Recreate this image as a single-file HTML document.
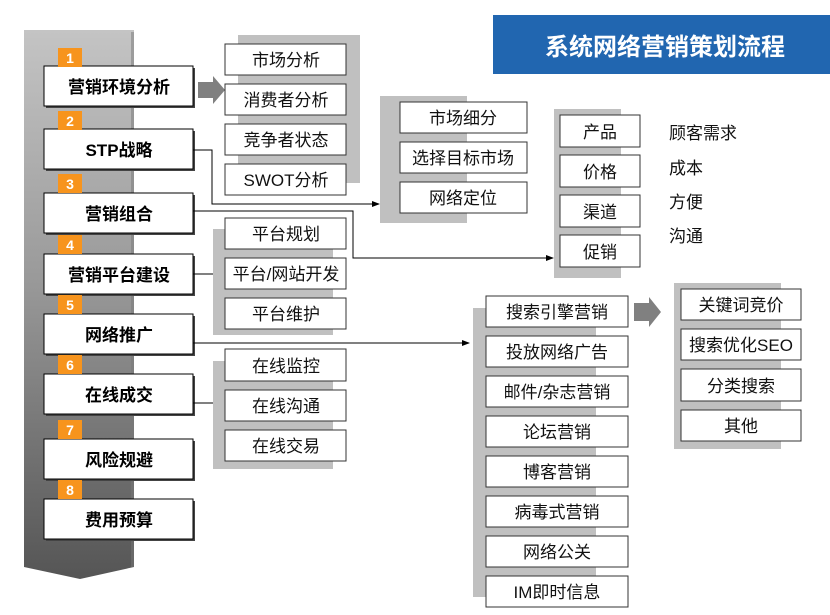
<!DOCTYPE html>
<html><head><meta charset="utf-8"><style>
html,body{margin:0;padding:0;background:#fff;width:830px;height:615px;overflow:hidden}
svg text{font-family:"Liberation Sans","Noto Sans CJK SC",sans-serif}
</style></head><body>
<svg width="830" height="615" xmlns="http://www.w3.org/2000/svg">
<defs>
<linearGradient id="g" x1="0" y1="0" x2="0" y2="1">
<stop offset="0" stop-color="#c4c4c4"/><stop offset="0.45" stop-color="#9a9a9a"/><stop offset="1" stop-color="#555"/>
</linearGradient>
<marker id="a" markerWidth="8" markerHeight="8" refX="7" refY="4" orient="auto" markerUnits="userSpaceOnUse"><path d="M0,1 L8,4 L0,7 Z" fill="#000"/></marker>
</defs>
<rect x="493" y="15" width="337" height="59" fill="#2166b0"/>
<text x="665" y="55" font-size="24" font-weight="bold" fill="#fff" text-anchor="middle">系统网络营销策划流程</text>
<path d="M24,30 H134 V567 L80,579 L24,567 Z" fill="url(#g)"/>
<rect x="131" y="32" width="3" height="535" fill="#777" opacity="0.5"/>
<g font-size="17" font-weight="bold" text-anchor="middle">
<g id="b">
</g>
</g>
<!-- left boxes -->
<g stroke="#000" stroke-width="1">
<rect x="46" y="68" width="149" height="40" fill="#444" stroke="none"/>
<rect x="44" y="66" width="149" height="40" fill="#fff"/>
<rect x="46" y="131" width="149" height="40" fill="#444" stroke="none"/>
<rect x="44" y="129" width="149" height="40" fill="#fff"/>
<rect x="46" y="195" width="149" height="40" fill="#444" stroke="none"/>
<rect x="44" y="193" width="149" height="40" fill="#fff"/>
<rect x="46" y="256" width="149" height="40" fill="#444" stroke="none"/>
<rect x="44" y="254" width="149" height="40" fill="#fff"/>
<rect x="46" y="316" width="149" height="40" fill="#444" stroke="none"/>
<rect x="44" y="314" width="149" height="40" fill="#fff"/>
<rect x="46" y="376" width="149" height="40" fill="#444" stroke="none"/>
<rect x="44" y="374" width="149" height="40" fill="#fff"/>
<rect x="46" y="441" width="149" height="40" fill="#444" stroke="none"/>
<rect x="44" y="439" width="149" height="40" fill="#fff"/>
<rect x="46" y="501" width="149" height="40" fill="#444" stroke="none"/>
<rect x="44" y="499" width="149" height="40" fill="#fff"/>
</g>
<g fill="#f7941d">
<rect x="58" y="48" width="24" height="19"/><rect x="58" y="111" width="24" height="19"/>
<rect x="58" y="174" width="24" height="19"/><rect x="58" y="235" width="24" height="19"/>
<rect x="58" y="295" width="24" height="19"/><rect x="58" y="355" width="24" height="19"/>
<rect x="58" y="420" width="24" height="19"/><rect x="58" y="480" width="24" height="19"/>
</g>
<g fill="#fff" font-size="14" font-weight="bold" text-anchor="middle">
<text x="70" y="63">1</text><text x="70" y="126">2</text><text x="70" y="189">3</text><text x="70" y="250">4</text>
<text x="70" y="310">5</text><text x="70" y="370">6</text><text x="70" y="435">7</text><text x="70" y="495">8</text>
</g>
<g font-size="17" font-weight="bold" text-anchor="middle">
<text x="119" y="93">营销环境分析</text><text x="119" y="156">STP战略</text>
<text x="119" y="220">营销组合</text><text x="119" y="281">营销平台建设</text>
<text x="119" y="341">网络推广</text><text x="119" y="401">在线成交</text>
<text x="119" y="466">风险规避</text><text x="119" y="526">费用预算</text>
</g>
<!-- gray backs -->
<g fill="#c0c0c0">
<rect x="238" y="35" width="122" height="148"/>
<rect x="380" y="96" width="87" height="127"/>
<rect x="554" y="109" width="67" height="169"/>
<rect x="213" y="229" width="120" height="106"/>
<rect x="213" y="361" width="120" height="108"/>
<rect x="473" y="308" width="123" height="289"/>
<rect x="674" y="283" width="107" height="166"/>
</g>
<!-- big arrows -->
<path d="M198,82 H213 V76 L225,90 L213,104 V98 H198 Z" fill="#808080"/>
<path d="M634,303 H649 V297 L661,312 L649,327 V321 H634 Z" fill="#808080"/>
<!-- connectors -->
<g stroke="#000" stroke-width="1" fill="none">
<path d="M193,150 H212 V204 H379" marker-end="url(#a)"/>
<path d="M193,211 H353 V258 H553" marker-end="url(#a)"/>
<path d="M193,274 H213"/>
<path d="M193,343 H469" marker-end="url(#a)"/>
<path d="M193,403 H213"/>
</g>
<g fill="#fff" stroke="#333" stroke-width="1">
<rect x="225" y="44" width="121" height="31"/><rect x="225" y="84" width="121" height="31"/>
<rect x="225" y="124" width="121" height="31"/><rect x="225" y="164" width="121" height="31"/>
<rect x="400" y="102" width="127" height="31"/><rect x="400" y="142" width="127" height="31"/><rect x="400" y="182" width="127" height="31"/>
<rect x="560" y="115" width="80" height="32"/><rect x="560" y="155" width="80" height="32"/>
<rect x="560" y="195" width="80" height="32"/><rect x="560" y="235" width="80" height="32"/>
<rect x="225" y="218" width="121" height="31"/><rect x="225" y="258" width="121" height="31"/><rect x="225" y="298" width="121" height="31"/>
<rect x="225" y="349" width="121" height="32"/><rect x="225" y="390" width="121" height="31"/><rect x="225" y="430" width="121" height="31"/>
<rect x="486" y="296" width="142" height="31"/><rect x="486" y="336" width="142" height="31"/>
<rect x="486" y="376" width="142" height="31"/><rect x="486" y="416" width="142" height="31"/>
<rect x="486" y="456" width="142" height="31"/><rect x="486" y="496" width="142" height="31"/>
<rect x="486" y="536" width="142" height="31"/><rect x="486" y="576" width="142" height="31"/>
<rect x="681" y="289" width="120" height="31"/><rect x="681" y="329" width="120" height="31"/>
<rect x="681" y="369" width="120" height="32"/><rect x="681" y="410" width="120" height="31"/>
</g>
<g font-size="17" text-anchor="middle" fill="#111">
<text x="286" y="66">市场分析</text><text x="286" y="106">消费者分析</text>
<text x="286" y="146">竞争者状态</text><text x="286" y="186">SWOT分析</text>
<text x="463" y="124">市场细分</text><text x="463" y="164">选择目标市场</text><text x="463" y="204">网络定位</text>
<text x="600" y="138">产品</text><text x="600" y="178">价格</text><text x="600" y="218">渠道</text><text x="600" y="258">促销</text>
<text x="286" y="240">平台规划</text><text x="286" y="280">平台/网站开发</text><text x="286" y="320">平台维护</text>
<text x="286" y="372">在线监控</text><text x="286" y="412">在线沟通</text><text x="286" y="452">在线交易</text>
<text x="557" y="318">搜索引擎营销</text><text x="557" y="358">投放网络广告</text>
<text x="557" y="398">邮件/杂志营销</text><text x="557" y="438">论坛营销</text>
<text x="557" y="478">博客营销</text><text x="557" y="518">病毒式营销</text>
<text x="557" y="558">网络公关</text><text x="557" y="598">IM即时信息</text>
<text x="741" y="311">关键词竞价</text><text x="741" y="351">搜索优化SEO</text>
<text x="741" y="392">分类搜索</text><text x="741" y="432">其他</text>
</g>
<g font-size="17" fill="#111">
<text x="669" y="139">顾客需求</text><text x="669" y="174">成本</text>
<text x="669" y="208">方便</text><text x="669" y="242">沟通</text>
</g>
</svg>
</body></html>
